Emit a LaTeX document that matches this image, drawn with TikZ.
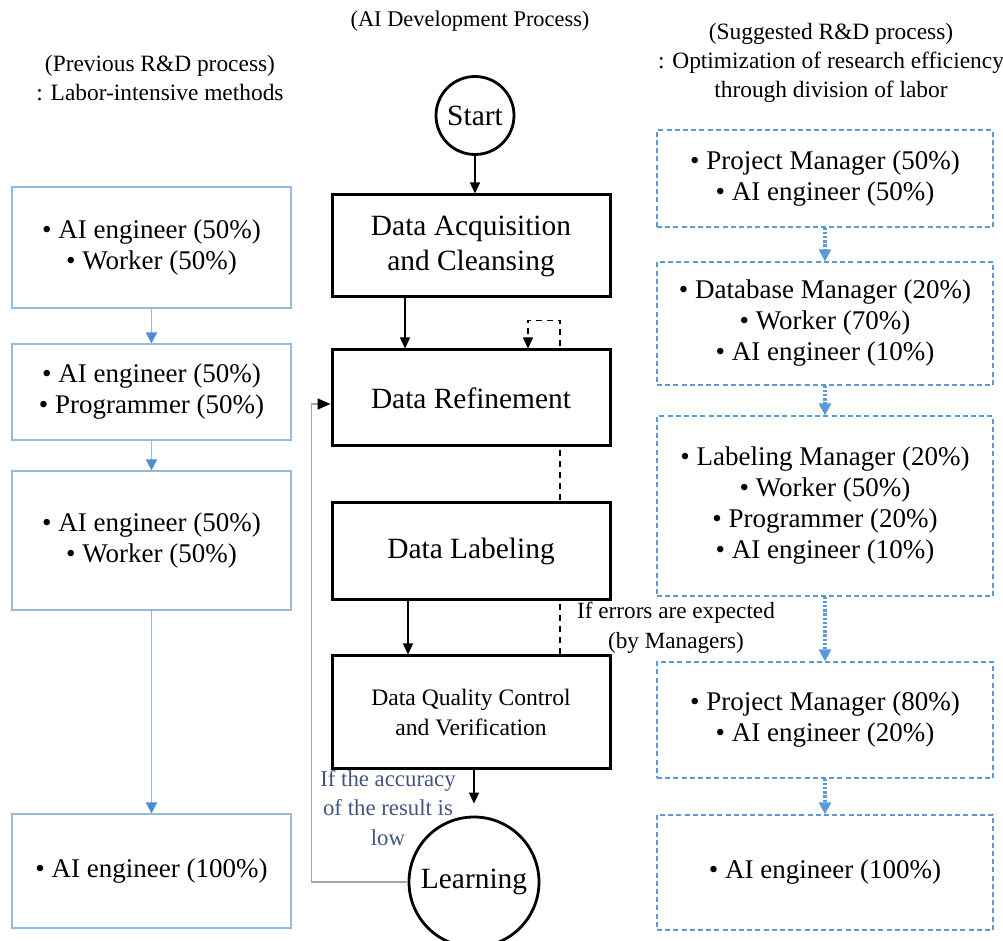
\documentclass[tikz,border=0pt]{standalone}
\usepackage{fontspec}
\setmainfont{Liberation Serif}
\usetikzlibrary{arrows.meta,backgrounds}
\definecolor{leftblue}{RGB}{150,185,222}
\definecolor{tipblue}{RGB}{75,140,210}
\definecolor{dashblue}{RGB}{91,155,213}
\definecolor{noteblue}{RGB}{68,84,130}
\definecolor{fbgray}{RGB}{165,165,165}

\begin{document}
\begin{tikzpicture}[x=0.5pt, y=-0.5pt,
    mainbox/.style={draw, line width=1.5pt, fill=white, minimum width=139pt,
                    align=center, font=\rmfamily\fontsize{14.7}{17.5}\selectfont},
    oldbox/.style={draw=leftblue, line width=0.6pt, minimum width=139.5pt,
                   align=center, font=\rmfamily\fontsize{13.5}{15.5}\selectfont},
    newbox/.style={draw=dashblue, line width=0.6pt, dash pattern=on 2.5pt off 1.6pt,
                   minimum width=168pt, align=center, font=\rmfamily\fontsize{13.5}{15.5}\selectfont},
    endpt/.style={draw, circle, line width=1.4pt, fill=white, inner sep=0pt,
                  font=\rmfamily\fontsize{14.7}{17.5}\selectfont},
    head/.style={align=center, font=\rmfamily\fontsize{11.7}{14.5}\selectfont},
    arr/.style={-{Triangle[length=5.5pt,width=5pt]}, line width=0.7pt},
    oldarr/.style={draw=leftblue, line width=0.8pt,
                   -{Triangle[length=5.5pt,width=5.5pt,color=tipblue]}},
    newarr/.style={draw=dashblue, line width=1.6pt, dash pattern=on 1.2pt off 0.9pt,
                   -{Triangle[length=6pt,width=6pt]}},
    dashloop/.style={dash pattern=on 3pt off 2.5pt, line width=0.8pt,
                     -{Triangle[length=5.5pt,width=5pt]}},
    fbline/.style={draw=fbgray, line width=0.7pt,
                   -{Triangle[length=6.5pt,width=5.5pt,color=black]}}
]
  \useasboundingbox (0,0) rectangle (1003,941);

  % Headers
  \node[head] (hleft) at (160,78) {(Previous R\&D process)\\: Labor-intensive methods};
  \node[head, font=\rmfamily\fontsize{11.2}{14}\selectfont] (hmid) at (470,21) {(AI Development Process)};
  \node[head] (hright) at (831,63) {(Suggested R\&D process)\\: Optimization of research efficiency\\through division of labor};

  % Previous process
  \node[oldbox, minimum height=60.5pt] (o1) at (151.5,247.5) {• AI engineer (50\%)\\• Worker (50\%)};
  \node[oldbox, minimum height=48pt] (o2) at (151.5,392) {• AI engineer (50\%)\\• Programmer (50\%)};
  \node[oldbox, minimum height=69.5pt] (o3) at (151.5,540.5) {• AI engineer (50\%)\\• Worker (50\%)};
  \node[oldbox, minimum height=57pt] (o4) at (151.5,871) {• AI engineer (100\%)};
  \draw[oldarr] (o1) -- (o2);
  \draw[oldarr] (o2) -- (o3);
  \draw[oldarr] (o3) -- (o4);

  % Development process
  \node[endpt, minimum size=39pt] (start) at (475,115.5) {Start};
  \node[mainbox, minimum height=51pt] (acq) at (471,246) {Data Acquisition\\and Cleansing};
  \node[mainbox, minimum height=48pt] (refine) at (471,398) {Data Refinement};
  \node[mainbox, minimum height=48.5pt] (label) at (471,551.5) {Data Labeling};
  \node[mainbox, minimum height=56pt, font=\rmfamily\fontsize{11.8}{15}\selectfont] (qc) at (471,712)
       {Data Quality Control\\and Verification};
  \node[endpt, minimum size=65pt] (learn) at (474,882) {Learning};

  \draw[arr] (start) -- (start |- acq.north);
  \draw[arr] ([xshift=-33pt]acq.south) -- ([xshift=-33pt]refine.north);
  \draw[arr] ([xshift=-31.5pt]label.south) -- ([xshift=-31.5pt]qc.north);
  \draw[arr] ([xshift=1.5pt]qc.south) -- ([yshift=6pt]learn.north);

  % Feedback loops
  \begin{scope}[on background layer]
    \draw[dashloop] ([xshift=44.5pt]qc.north) -- ([xshift=44.5pt,yshift=14pt]refine.north)
         -| ([xshift=28.5pt]refine.north);
  \end{scope}
  \draw[fbline] (learn.west) -- ++(-48pt,0) |- ([yshift=-3pt]refine.west);

  \node[align=center, text=noteblue, font=\rmfamily\fontsize{11.4}{14.75}\selectfont] (lownote) at (388,808)
       {If the accuracy\\of the result is\\low};
  \node[align=center, font=\rmfamily\fontsize{11.6}{15}\selectfont] (errnote) at (676,628)
       {If errors are expected\\(by Managers)};

  % Suggested process
  \node[newbox, minimum height=48.5pt] (n1) at (825,178.5) {• Project Manager (50\%)\\• AI engineer (50\%)};
  \node[newbox, minimum height=61.5pt] (n2) at (825,323.5) {• Database Manager (20\%)\\• Worker (70\%)\\• AI engineer (10\%)};
  \node[newbox, minimum height=90pt] (n3) at (825,506)
       {• Labeling Manager (20\%)\\• Worker (50\%)\\• Programmer (20\%)\\• AI engineer (10\%)};
  \node[newbox, minimum height=58pt] (n4) at (825,720) {• Project Manager (80\%)\\• AI engineer (20\%)};
  \node[newbox, minimum height=57.5pt] (n5) at (825,872.5) {• AI engineer (100\%)};
  \draw[newarr] (n1) -- (n2);
  \draw[newarr] (n2) -- (n3);
  \draw[newarr] (n3) -- (n4);
  \draw[newarr] (n4) -- (n5);
\end{tikzpicture}
\end{document}
